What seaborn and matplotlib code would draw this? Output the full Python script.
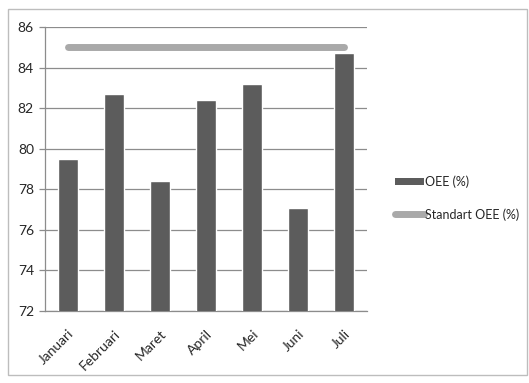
import numpy as np
import pandas as pd
import matplotlib
matplotlib.use("Agg")
import matplotlib.pyplot as plt
import seaborn as sns
from matplotlib.patches import Rectangle, Patch

months = ["Januari", "Februari", "Maret", "April", "Mei", "Juni", "Juli"]
oee = [79.5, 82.7, 78.4, 82.4, 83.2, 77.1, 84.7]
standard_oee = [85, 85, 85, 85, 85, 85, 85]

sns.set_style("white")
plt.rcParams["font.family"] = ["Lato", "DejaVu Sans"]

fig = plt.figure(figsize=(5.29, 3.83), dpi=100)
ax = fig.add_axes([45 / 529, 1 - 311 / 383, 322 / 529, 284 / 383])

df = pd.DataFrame({"month": months, "oee": oee})
sns.barplot(data=df, x="month", y="oee", color="#5c5c5c", saturation=1,
            width=0.42, ax=ax, zorder=3)
sns.lineplot(x=np.arange(len(months)), y=standard_oee, color="#a9a9a9",
             linewidth=5, solid_capstyle="round", ax=ax,
             label="Standart OEE (%)", zorder=4)

ax.set_ylim(72, 86)
ax.set_yticks(np.arange(72, 87, 2))
ax.set_xlim(-0.5, len(months) - 0.5)
ax.set_xlabel("")
ax.set_ylabel("")
ax.grid(axis="y", color="#8c8c8c", linewidth=0.9, zorder=0)
ax.set_axisbelow(True)
for side in ["top", "right"]:
    ax.spines[side].set_visible(False)
for side in ["left", "bottom"]:
    ax.spines[side].set_color("#8c8c8c")
    ax.spines[side].set_linewidth(0.9)

ax.set_xticks(np.arange(len(months)))
ax.set_xticklabels(months, rotation=45, ha="right", rotation_mode="anchor",
                   fontsize=10)
ax.tick_params(axis="x", length=0, pad=12)
ax.set_xticks(np.arange(-0.5, len(months)), minor=True)
ax.tick_params(axis="x", which="minor", length=5, color="#8c8c8c", width=0.9)
ax.tick_params(axis="y", length=4, color="#8c8c8c", width=0.9, labelsize=10,
               pad=4, left=True)

line_handle = ax.get_legend_handles_labels()[0][0]
bar_handle = Patch(facecolor="#5c5c5c", edgecolor="none")
leg = ax.legend([bar_handle, line_handle], ["OEE (%)", "Standart OEE (%)"],
                loc="center left", bbox_to_anchor=(384 / 529, 1 - 198 / 383),
                bbox_transform=fig.transFigure, frameon=False, fontsize=9,
                handlelength=2.3, handleheight=0.55, handletextpad=0.05,
                labelspacing=1.6)

fig.patches.append(Rectangle((8 / 529, 1 - 375 / 383), 519 / 529, 366 / 383,
                             transform=fig.transFigure, fill=False,
                             edgecolor="#bdbdbd", linewidth=1))

fig.savefig("out.png", dpi=100)
